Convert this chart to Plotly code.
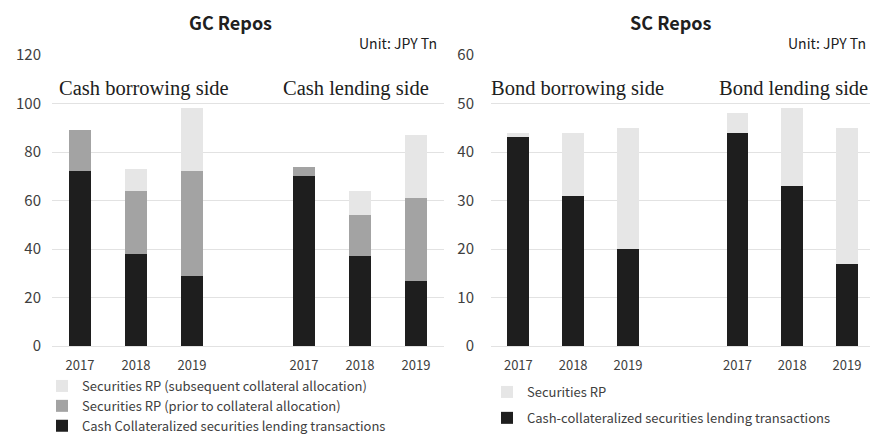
import plotly.graph_objects as go

# Category positions: three years per side, with an empty slot between sides
years = ["2017", "2018", "2019", "2017", "2018", "2019"]
xpos = [0, 1, 2, 4, 5, 6]

# GC repos (JPY Tn): cash borrowing side, then cash lending side
gc_cash_collat = [72, 38, 29, 70, 37, 27]
gc_rp_prior = [17, 26, 43, 3.7, 17, 34]
gc_rp_subsequent = [0, 9, 26, 0, 10, 26]

# SC repos (JPY Tn): bond borrowing side, then bond lending side
sc_cash_collat = [43, 31, 20, 44, 33, 17]
sc_rp = [1, 13, 25, 4, 16, 28]

BLACK = "#1e1e1e"
GRAY = "#a3a3a3"
LIGHT = "#e6e6e6"
SANS = "Noto Sans CJK KR"
SERIF = "Liberation Serif"
TXT = "#404040"
W = 870
H = 434

fig = go.Figure()

# bottom-to-top stacking order; legend lists them top-to-bottom
gc_series = [
    ("Cash Collateralized securities lending transactions", gc_cash_collat, BLACK, 3),
    ("Securities RP (prior to collateral allocation)", gc_rp_prior, GRAY, 2),
    ("Securities RP (subsequent collateral allocation)", gc_rp_subsequent, LIGHT, 1),
]
for name, vals, col, rank in gc_series:
    fig.add_trace(go.Bar(
        x=xpos, y=vals, name=name, marker=dict(color=col, line=dict(width=0)),
        width=0.41, xaxis="x", yaxis="y", legend="legend", legendrank=rank,
    ))

sc_series = [
    ("Cash-collateralized securities lending transactions", sc_cash_collat, BLACK, 2),
    ("Securities RP", sc_rp, LIGHT, 1),
]
for name, vals, col, rank in sc_series:
    fig.add_trace(go.Bar(
        x=xpos, y=vals, name=name, marker=dict(color=col, line=dict(width=0)),
        width=0.40, xaxis="x2", yaxis="y2", legend="legend2", legendrank=rank,
        legendgroup="sc%d" % rank,
    ))

ydom = [(H - 346) / H, (H - 55) / H]
grid = "#e2e2e2"

common_x = dict(
    tickmode="array", tickvals=xpos, ticktext=years, showgrid=False,
    zeroline=False, showline=False, ticks="", ticklabelstandoff=10,
    tickfont=dict(family=SANS, size=13, color=TXT), fixedrange=True,
)
common_y = dict(
    showgrid=True, gridcolor=grid, gridwidth=1, zeroline=True, zerolinecolor=grid,
    zerolinewidth=1, showline=False, ticks="",
    tickfont=dict(family=SANS, size=15, color=TXT), fixedrange=True,
)

fig.update_layout(
    width=W, height=H, margin=dict(l=0, r=0, t=0, b=0, autoexpand=False),
    paper_bgcolor="white", plot_bgcolor="white",
    barmode="stack", bargap=0,
    xaxis=dict(domain=[52 / W, 444 / W], range=[-0.5, 6.5], anchor="y",
               automargin=False, **common_x),
    yaxis=dict(domain=ydom, range=[0, 120], dtick=20, anchor="x", automargin=False,
               ticklabelstandoff=10, **common_y),
    xaxis2=dict(domain=[491 / W, 1.0], range=[-0.5, 6.42], anchor="y2",
                automargin=False, **common_x),
    yaxis2=dict(domain=ydom, range=[0, 60], dtick=10, anchor="x2", automargin=False,
                ticklabelstandoff=16, **common_y),
    legend=dict(
        x=42 / W, y=(H - 371) / H, xanchor="left", yanchor="top",
        traceorder="normal", tracegroupgap=0,
        font=dict(family=SANS, size=13, color=TXT), bgcolor="rgba(0,0,0,0)",
        itemclick=False, itemdoubleclick=False,
    ),
    legend2=dict(
        x=487 / W, y=(H - 377) / H, xanchor="left", yanchor="top",
        traceorder="grouped", tracegroupgap=6,
        font=dict(family=SANS, size=13, color=TXT), bgcolor="rgba(0,0,0,0)",
        itemclick=False, itemdoubleclick=False,
    ),
    showlegend=True,
)

annotations = [
    dict(text="<b>GC Repos</b>", x=230, y=22, font=dict(family=SANS, size=18, color="#202020"),
         xanchor="center"),
    dict(text="<b>SC Repos</b>", x=670, y=22, font=dict(family=SANS, size=18, color="#202020"),
         xanchor="center"),
    dict(text="Unit: JPY Tn", x=439, y=43, font=dict(family=SANS, size=14, color="#202020"),
         xanchor="right"),
    dict(text="Unit: JPY Tn", x=868, y=43, font=dict(family=SANS, size=14, color="#202020"),
         xanchor="right"),
    dict(text="Cash borrowing side", x=57, y=88, font=dict(family=SERIF, size=20.5, color="#202020"),
         xanchor="left"),
    dict(text="Cash lending side", x=281, y=88, font=dict(family=SERIF, size=20.5, color="#202020"),
         xanchor="left"),
    dict(text="Bond borrowing side", x=489, y=89, font=dict(family=SERIF, size=20.5, color="#202020"),
         xanchor="left"),
    dict(text="Bond lending side", x=717, y=89, font=dict(family=SERIF, size=20.5, color="#202020"),
         xanchor="left"),
]
for a in annotations:
    fig.add_annotation(
        text=a["text"], x=a["x"] / W, y=(H - a["y"]) / H, xref="paper", yref="paper",
        xanchor=a["xanchor"], yanchor="middle", showarrow=False, font=a["font"],
    )

fig.write_html("out.html")
